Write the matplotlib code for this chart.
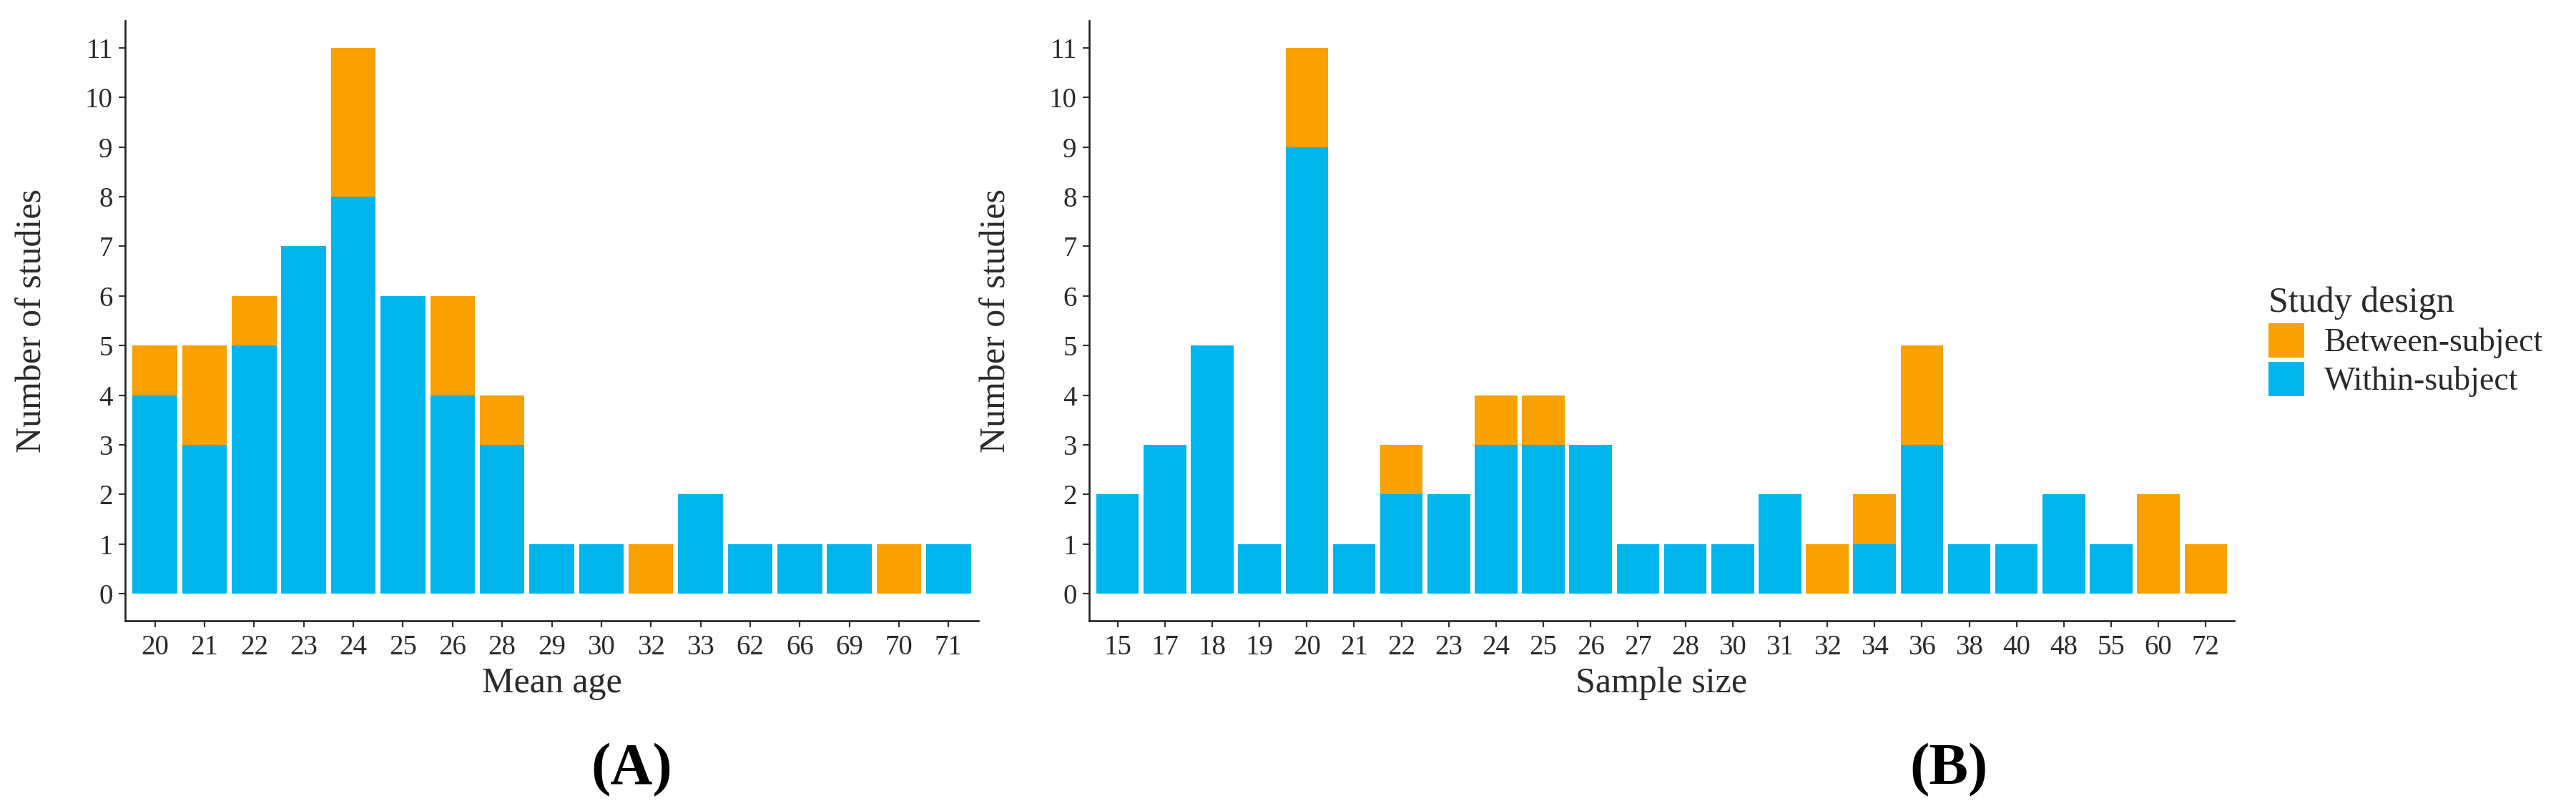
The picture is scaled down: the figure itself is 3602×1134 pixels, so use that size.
import matplotlib
matplotlib.use("Agg")
import matplotlib.pyplot as plt
from matplotlib.patches import Patch
import numpy as np

# %% Data

age_labels = ['20', '21', '22', '23', '24', '25', '26', '28', '29', '30', '32', '33',
              '62', '66', '69', '70', '71']
age_within = [4, 3, 5, 7, 8, 6, 4, 3, 1, 1, 0, 2, 1, 1, 1, 0, 1]
age_between = [1, 2, 1, 0, 3, 0, 2, 1, 0, 0, 1, 0, 0, 0, 0, 1, 0]

size_labels = ['15', '17', '18', '19', '20', '21', '22', '23', '24', '25', '26', '27',
               '28', '30', '31', '32', '34', '36', '38', '40', '48', '55', '60', '72']
size_within = [2, 3, 5, 1, 9, 1, 2, 2, 3, 3, 3, 1, 1, 1, 2, 0, 1, 3, 1, 1, 2, 1, 0, 0]
size_between = [0, 0, 0, 0, 2, 0, 1, 0, 1, 1, 0, 0, 0, 0, 0, 1, 1, 2, 0, 0, 0, 0, 2, 1]

y_ticks = list(range(0, 12))

# %% Style

orange = '#F9A100'
blue = '#00B5EB'
text_col = '#2b2b2b'
plt.rcParams['font.family'] = ['Liberation Serif', 'DejaVu Serif']

W, H = 3602, 1134
fig = plt.figure(figsize=(W / 100, H / 100), dpi=100)
fig.set_facecolor('white')


def panel(rect, labels, within, between, xlabel):
    ax = fig.add_axes(rect)
    x = np.arange(len(labels))
    ax.bar(x, within, width=0.9, color=blue, linewidth=0, zorder=2)
    ax.bar(x, between, width=0.9, bottom=within, color=orange, linewidth=0, zorder=2)
    ax.set_xticks(x)
    ax.set_xticklabels(labels)
    ax.set_yticks(y_ticks)
    ax.set_xlim(-0.6, len(labels) - 0.4)
    ax.set_ylim(-0.55, 11.55)
    for side in ['top', 'right']:
        ax.spines[side].set_visible(False)
    for side in ['left', 'bottom']:
        ax.spines[side].set_linewidth(1.9)
        ax.spines[side].set_color('#222222')
    ax.tick_params(axis='both', length=6.5, width=1.6, color='#333333',
                   labelsize=28, labelcolor=text_col)
    ax.tick_params(axis='x', pad=7)
    ax.tick_params(axis='y', pad=6)
    ax.set_xlabel(xlabel, fontsize=36, color=text_col, labelpad=6)
    ax.set_ylabel('Number of studies', fontsize=36, color=text_col, labelpad=36)
    return ax


# Panel geometry in pixels
ax_bottom = 1 - 868 / H
ax_height = (868 - 29) / H
ax_a = panel([175 / W, ax_bottom, (1368 - 175) / W, ax_height],
             age_labels, age_within, age_between, 'Mean age')
ax_b = panel([1523 / W, ax_bottom, (3124 - 1523) / W, ax_height],
             size_labels, size_within, size_between, 'Sample size')

# Legend
handles = [Patch(facecolor=orange, edgecolor='none', label='Between-subject'),
           Patch(facecolor=blue, edgecolor='none', label='Within-subject')]
leg = fig.legend(handles=handles, title='Study design', loc='center left',
                 bbox_to_anchor=(3172 / W, 1 - 478 / H), frameon=False,
                 fontsize=33, title_fontsize=36, handlelength=1.1, handleheight=1.25,
                 handletextpad=0.6, labelspacing=0.1, alignment='left',
                 borderaxespad=0, borderpad=0)
for t in leg.get_texts():
    t.set_color(text_col)
leg.get_title().set_color(text_col)

# Panel letters
fig.text(883 / W, 1 - 1077 / H, '(A)', fontsize=59, fontweight='bold',
         ha='center', va='center', color='black')
fig.text(2725 / W, 1 - 1077 / H, '(B)', fontsize=59, fontweight='bold',
         ha='center', va='center', color='black')

plt.savefig('out.png', dpi=100, facecolor='white')
